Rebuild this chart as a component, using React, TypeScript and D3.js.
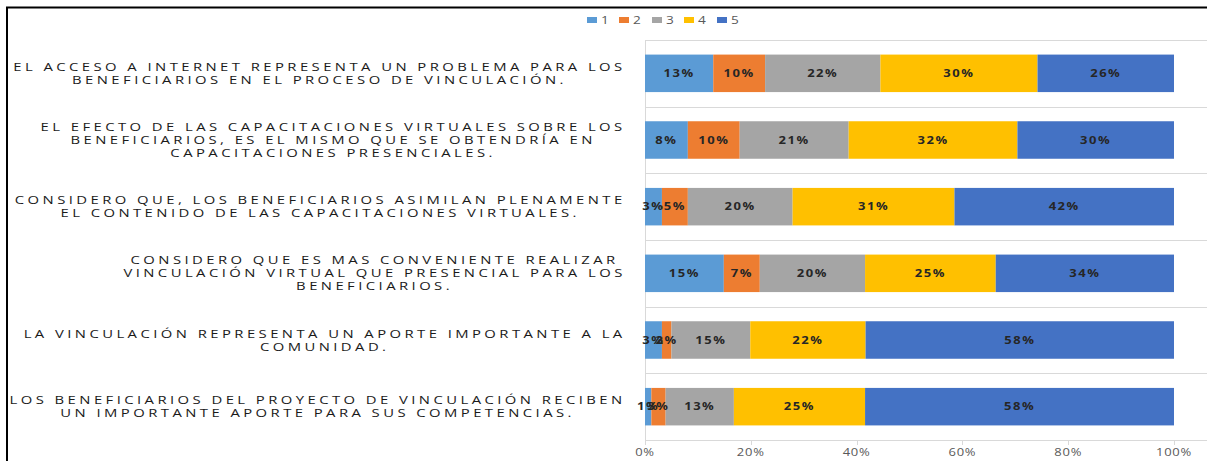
import React, { useEffect, useRef } from "react";
import * as d3 from "d3";

// ---- data ----
const categories: string[][] = [
  ["EL ACCESO A INTERNET REPRESENTA UN PROBLEMA PARA LOS", "BENEFICIARIOS EN EL PROCESO DE VINCULACIÓN."],
  ["EL EFECTO DE LAS CAPACITACIONES VIRTUALES SOBRE LOS", "BENEFICIARIOS, ES EL MISMO QUE SE OBTENDRÍA EN", "CAPACITACIONES PRESENCIALES."],
  ["CONSIDERO QUE, LOS BENEFICIARIOS ASIMILAN PLENAMENTE", "EL CONTENIDO DE LAS CAPACITACIONES VIRTUALES."],
  ["CONSIDERO QUE ES MAS CONVENIENTE REALIZAR", "VINCULACIÓN VIRTUAL QUE PRESENCIAL PARA LOS", "BENEFICIARIOS."],
  ["LA VINCULACIÓN REPRESENTA UN APORTE IMPORTANTE A LA", "COMUNIDAD."],
  ["LOS BENEFICIARIOS DEL PROYECTO DE VINCULACIÓN RECIBEN", "UN IMPORTANTE APORTE PARA SUS COMPETENCIAS."],
];
const seriesNames = ["1", "2", "3", "4", "5"];
const series1 = [12.9, 8.1, 3.2, 14.9, 3.2, 1.2];
const series2 = [9.8, 9.8, 4.9, 6.8, 1.8, 2.7];
const series3 = [21.8, 20.6, 19.8, 19.9, 14.9, 12.9];
const series4 = [29.7, 31.9, 30.6, 24.7, 21.8, 24.8];
const series5 = [25.8, 29.6, 41.5, 33.7, 58.3, 58.4];
const xTicks = [0, 0.2, 0.4, 0.6, 0.8, 1];
const colors = ["#5B9BD5", "#ED7D31", "#A5A5A5", "#FFC000", "#4472C4"];

const W = 1207;
const H = 461;
const X0 = 645;
const X1 = 1174;
const Y0 = 40;
const Y1 = 440;
const LABEL_RIGHT = 626;
const SX = 1.3;
const CAT_SX = 1.35;

export default function App() {
  const ref = useRef<SVGSVGElement>(null);

  useEffect(() => {
    const svg = d3.select(ref.current);
    svg.selectAll("*").remove();

    const allSeries = [series1, series2, series3, series4, series5];
    const rows = categories.map((c, i) => {
      const r: any = { idx: i };
      seriesNames.forEach((s, k) => (r[s] = allSeries[k][i]));
      return r;
    });
    const stacked = d3.stack<any>().keys(seriesNames).offset(d3.stackOffsetExpand)(rows);

    const x = d3.scaleLinear().domain([0, 1]).range([X0, X1]);
    const y = d3
      .scaleBand<number>()
      .domain(categories.map((_, i) => i))
      .range([Y0, Y1])
      .paddingInner(0.4375)
      .paddingOuter(0.21875);
    const step = y.step();

    // frame
    svg
      .append("path")
      .attr("d", `M7,${H} L7,7.5 L${W},7.5`)
      .attr("fill", "none")
      .attr("stroke", "#000")
      .attr("stroke-width", 2);

    // horizontal separators
    const seps = d3.range(categories.length + 1).map((i) => Y0 + i * step);
    svg
      .append("g")
      .selectAll("line")
      .data(seps)
      .join("line")
      .attr("x1", X0)
      .attr("x2", W)
      .attr("y1", (d) => Math.round(d) + 0.5)
      .attr("y2", (d) => Math.round(d) + 0.5)
      .attr("stroke", "#D9D9D9")
      .attr("stroke-width", 1);

    // vertical axis line
    svg
      .append("line")
      .attr("x1", X0 + 0.5)
      .attr("x2", X0 + 0.5)
      .attr("y1", Y0)
      .attr("y2", Y1 + 4)
      .attr("stroke", "#D9D9D9");

    // ticks
    const tg = svg.append("g");
    tg.selectAll("line")
      .data(xTicks)
      .join("line")
      .attr("x1", (d) => Math.round(x(d)) + 0.5)
      .attr("x2", (d) => Math.round(x(d)) + 0.5)
      .attr("y1", Y1)
      .attr("y2", Y1 + 5)
      .attr("stroke", "#D9D9D9");
    tg.selectAll("text")
      .data(xTicks)
      .join("text")
      .attr("transform", (d) => `translate(${x(d)},456) scale(${SX},1)`)
      .attr("text-anchor", "middle")
      .attr("font-family", "Open Sans")
      .attr("font-size", 10)
      .attr("letter-spacing", 0.6)
      .attr("fill", "#595959")
      .text((d) => d3.format(".0%")(d));

    // bars
    const bg = svg.append("g");
    stacked.forEach((layer, k) => {
      bg.append("g")
        .attr("fill", colors[k])
        .selectAll("rect")
        .data(layer)
        .join("rect")
        .attr("x", (d) => x(d[0]))
        .attr("width", (d) => x(d[1]) - x(d[0]))
        .attr("y", (d) => y(d.data.idx)!)
        .attr("height", y.bandwidth());
    });
    // bar labels
    const lg = svg.append("g");
    stacked.forEach((layer) => {
      lg.append("g")
        .selectAll("text")
        .data(layer)
        .join("text")
        .attr(
          "transform",
          (d) => `translate(${(x(d[0]) + x(d[1])) / 2},${y(d.data.idx)! + y.bandwidth() / 2 + 3.6}) scale(${SX},1)`
        )
        .attr("text-anchor", "middle")
        .attr("font-family", "Open Sans")
        .attr("font-weight", "bold")
        .attr("font-size", 10)
        .attr("letter-spacing", 1.2)
        .attr("fill", "#262626")
        .text((d) => d3.format(".0%")(d[1] - d[0]));
    });

    // category labels
    const cg = svg.append("g");
    categories.forEach((lines, i) => {
      const cy = y(i)! + y.bandwidth() / 2;
      const g = cg.append("g");
      const n = lines.length;
      const texts = g
        .selectAll("text")
        .data(lines)
        .join("text")
        .attr("text-anchor", "middle")
        .attr("font-family", "Open Sans")
        .attr("font-size", 11)
        .attr("font-weight", 500)
        .attr("letter-spacing", 2.55)
        .attr("fill", "#1a1a1a")
        .text((d) => d);
      let maxW = 0;
      texts.each(function () {
        const w = (this as SVGTextElement).getComputedTextLength() * CAT_SX;
        if (w > maxW) maxW = w;
      });
      const cx = LABEL_RIGHT - maxW / 2;
      texts.attr(
        "transform",
        (_, j) => `translate(${cx},${cy + (j - (n - 1) / 2) * 13 + 4}) scale(${CAT_SX},1)`
      );
    });

    // legend
    const legX = [587, 619, 652, 684, 717];
    const leg = svg.append("g");
    seriesNames.forEach((s, k) => {
      leg.append("rect")
        .attr("x", legX[k])
        .attr("y", 17)
        .attr("width", 10)
        .attr("height", 6)
        .attr("fill", colors[k]);
      leg.append("text")
        .attr("transform", `translate(${legX[k] + 14},24) scale(${SX},1)`)
        .attr("font-family", "Open Sans")
        .attr("font-size", 10.5)
        .attr("fill", "#595959")
        .text(s);
    });
  }, []);

  return (
    <svg
      ref={ref}
      width={W}
      height={H}
      style={{ position: "absolute", left: 0, top: 0, background: "#fff" }}
    />
  );
}
